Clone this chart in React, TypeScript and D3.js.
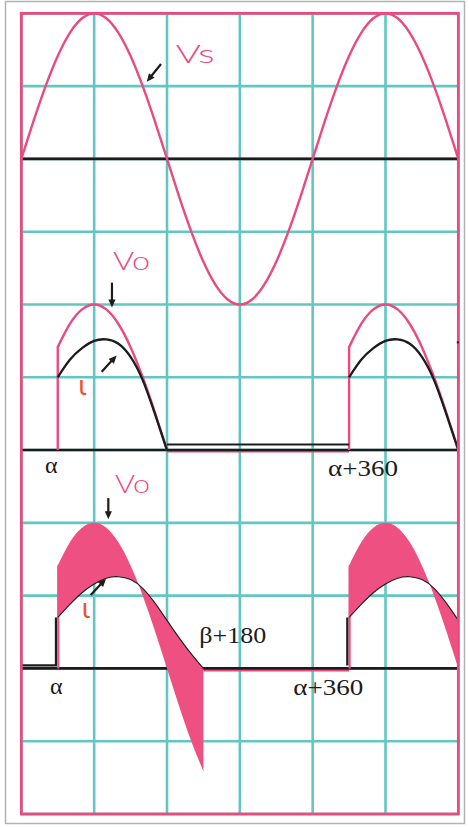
import React from "react";
import * as d3 from "d3";

const W = 469;
const H = 827;

// Sample angles (degrees) across one and a half supply cycles
const ANGLES = [
  0, 15, 30, 45, 60, 75, 90, 105, 120, 135, 150, 165, 180, 195, 210, 225, 240,
  255, 270, 285, 300, 315, 330, 345, 360, 375, 390, 405, 420, 435, 450, 465,
  480, 495, 510, 525, 540,
];
// Supply voltage Vs (per unit of peak)
const VS = [
  0, 0.259, 0.5, 0.707, 0.866, 0.966, 1, 0.966, 0.866, 0.707, 0.5, 0.259, 0,
  -0.259, -0.5, -0.707, -0.866, -0.966, -1, -0.966, -0.866, -0.707, -0.5,
  -0.259, 0, 0.259, 0.5, 0.707, 0.866, 0.966, 1, 0.966, 0.866, 0.707, 0.5,
  0.259, 0,
];

// Firing angle and extinction angle (degrees)
const ALPHA = 45;
const BETA = 225;
// The output pulse repeats every supply cycle
const PULSE_SHIFTS = [0, 360];

// Load current, second panel: conduction from α to 180
const I_MID_ANGLES = [45, 60, 75, 90, 105, 120, 135, 150, 165, 180];
const I_MID = [0.5, 0.62, 0.7, 0.75, 0.76, 0.73, 0.64, 0.48, 0.25, 0];

// Load current, third panel: conduction from α to β
const I_LOW_ANGLES = [45, 60, 75, 90, 105, 120, 135, 150, 165, 180, 195, 210, 225];
const I_LOW = [0.35, 0.44, 0.52, 0.58, 0.62, 0.63, 0.61, 0.55, 0.45, 0.33, 0.21, 0.1, 0];

// Grid: vertical lines every 90°, 11 equal rows
const GRID_ANGLES = [0, 90, 180, 270, 360, 450, 540];
const GRID_ROW_COUNT = 11;
// Rows that carry the zero axis of each panel
const AXIS_ROWS = [2, 6, 9];

const PINK = "#ea4b7f";
const FILL_PINK = "#ef5082";
const TEAL = "#62c7c2";
const INK = "#1c1c1c";
const IOTA = "#f0532c";

const x = d3.scaleLinear().domain([0, 540]).range([21.33, 458.33]);
const row = d3.scaleLinear().domain([0, GRID_ROW_COUNT]).range([13.33, 814]);
const panelScale = (axisRow: number) =>
  d3.scaleLinear().domain([0, 1]).range([row(axisRow), row(axisRow - 2)]);
const y1 = panelScale(AXIS_ROWS[0]);
const y2 = panelScale(AXIS_ROWS[1]);
const y3 = panelScale(AXIS_ROWS[2]);

const vsAt = new Map(ANGLES.map((a, i) => [a, VS[i]]));

type Pt = { a: number; v: number };

function curvePath(pts: Pt[], y: d3.ScaleLinear<number, number>) {
  return (
    d3
      .line<Pt>()
      .x((d) => x(d.a))
      .y((d) => y(d.v))
      .curve(d3.curveNatural)(pts) || ""
  );
}

function Arrow({ x1, y1: ya, x2, y2: yb }: { x1: number; y1: number; x2: number; y2: number }) {
  const dx = x2 - x1;
  const dy = yb - ya;
  const len = Math.hypot(dx, dy);
  const ux = dx / len;
  const uy = dy / len;
  const hl = 8;
  const hw = 3.6;
  const bx = x2 - ux * hl;
  const by = yb - uy * hl;
  const tri = `M${x2},${yb}L${bx - uy * hw},${by + ux * hw}L${bx + uy * hw},${by - ux * hw}Z`;
  return (
    <g>
      <line x1={x1} y1={ya} x2={bx + ux * 1} y2={by + uy * 1} stroke={INK} strokeWidth={2.2} />
      <path d={tri} fill={INK} />
    </g>
  );
}

const sansStyle = {
  fontFamily: "Lato, 'DejaVu Sans', sans-serif",
  fontWeight: 300,
  fontSize: "26px",
};

const serifStyle = {
  fontFamily: "Liberation Serif, DejaVu Serif, serif",
  fontWeight: 400,
  fontSize: "24px",
};

const iotaStyle = {
  fontFamily: "'DejaVu Sans', sans-serif",
  fontSize: "27px",
};

export default function App() {
  const vsPts: Pt[] = ANGLES.map((a, i) => ({ a, v: VS[i] }));

  // Second panel: output voltage pulses and current
  const midPulses = PULSE_SHIFTS.map((s) => {
    const start = ALPHA + s;
    const vo = ANGLES.filter((a) => a >= start && a <= 180 + s).map((a) => ({ a, v: vsAt.get(a)! }));
    const vPath =
      `M${x(start)},${y2(0)}L${x(start)},${y2(vo[0].v)}` + curvePath(vo, y2).replace(/^M[^LC]*/, "");
    const cur = I_MID_ANGLES.map((a, i) => ({ a: a + s, v: I_MID[i] })).filter((d) => d.a <= 540);
    return { s, vPath, iPath: curvePath(cur, y2) };
  });

  // Third panel: output voltage follows the supply from α to β
  const lowPulses = PULSE_SHIFTS.map((s) => {
    const start = ALPHA + s;
    const rows = I_LOW_ANGLES.map((a, i) => ({ a: a + s, i: I_LOW[i], v: vsAt.get(a + s) }))
      .filter((d) => d.a <= 540 && d.v !== undefined) as { a: number; i: number; v: number }[];
    const area =
      d3
        .area<{ a: number; i: number; v: number }>()
        .x((d) => x(d.a))
        .y0((d) => y3(d.i))
        .y1((d) => y3(d.v))
        .curve(d3.curveNatural)(rows) || "";
    const cur = rows.map((d) => ({ a: d.a, v: d.i }));
    return { s, start, area, iPath: curvePath(cur, y3), i0: rows[0].i, v0: rows[0].v };
  });

  const serifText = (key: string, tx: number, ty: number, label: string, len?: number) => (
    <text
      key={key}
      x={tx}
      y={ty}
      fill={INK}
      style={serifStyle}
      textLength={len}
      lengthAdjust={len ? "spacingAndGlyphs" : undefined}
    >
      {label}
    </text>
  );

  const sansText = (tx: number, ty: number, label: string, len: number) => (
    <text x={tx} y={ty} fill={PINK} style={sansStyle} textLength={len} lengthAdjust="spacingAndGlyphs">
      {label}
    </text>
  );

  return (
    <svg
      width={W}
      height={H}
      viewBox={`0 0 ${W} ${H}`}
      style={{ position: "absolute", left: 0, top: 0, background: "#fff" }}
    >
      <rect x={5.5} y={1.5} width={459} height={822} fill="#fff" stroke="#b3b3b3" strokeWidth={1.5} />

      {/* grid */}
      <g stroke={TEAL} strokeWidth={2.6}>
        {GRID_ANGLES.map((a) => (
          <line key={`v${a}`} x1={x(a)} x2={x(a)} y1={row(0)} y2={row(GRID_ROW_COUNT)} />
        ))}
        {d3.range(GRID_ROW_COUNT + 1).map((r) => (
          <line key={`h${r}`} x1={x(0)} x2={x(540)} y1={row(r)} y2={row(r)} />
        ))}
      </g>

      {/* zero-voltage stretches between output pulses */}
      <line x1={x(180)} x2={x(ALPHA + 360)} y1={y2(0) + 1.5} y2={y2(0) + 1.5} stroke={PINK} strokeWidth={2} />
      <line x1={x(BETA)} x2={x(ALPHA + 360)} y1={y3(0) + 2} y2={y3(0) + 2} stroke={PINK} strokeWidth={2} />

      {/* zero axes */}
      <g stroke={INK} strokeWidth={2.6}>
        {AXIS_ROWS.map((r) => (
          <line key={r} x1={x(0)} x2={x(540)} y1={row(r)} y2={row(r)} />
        ))}
      </g>

      {/* panel 1: supply voltage */}
      <path d={curvePath(vsPts, y1)} fill="none" stroke={PINK} strokeWidth={2.4} />

      {/* panel 2 */}
      {midPulses.map((p) => (
        <g key={p.s}>
          <path d={p.vPath} fill="none" stroke={PINK} strokeWidth={2.4} />
          <path d={p.iPath} fill="none" stroke={INK} strokeWidth={2.3} />
        </g>
      ))}
      <line x1={x(180)} x2={x(ALPHA + 360)} y1={y2(0) - 5.5} y2={y2(0) - 5.5} stroke={INK} strokeWidth={2} />

      {/* panel 3 */}
      <clipPath id="frameClip">
        <rect x={x(0)} y={row(0)} width={x(540) - x(0)} height={row(GRID_ROW_COUNT) - row(0)} />
      </clipPath>
      <g clipPath="url(#frameClip)">
        {lowPulses.map((p) => (
          <g key={p.s}>
            <path d={p.area} fill={FILL_PINK} />
            <line
              x1={x(p.start) + 0.5}
              x2={x(p.start) + 0.5}
              y1={y3(0)}
              y2={y3(p.v0)}
              stroke={FILL_PINK}
              strokeWidth={2.2}
            />
            <line
              x1={x(p.start) - 1.8}
              x2={x(p.start) - 1.8}
              y1={y3(0) - 3}
              y2={y3(p.i0)}
              stroke={INK}
              strokeWidth={2.2}
            />
            <path d={p.iPath} fill="none" stroke={INK} strokeWidth={1.1} />
          </g>
        ))}
      </g>
      <line x1={x(0)} x2={x(ALPHA) - 0.8} y1={y3(0) - 3} y2={y3(0) - 3} stroke={INK} strokeWidth={2.2} />

      {/* frame */}
      <rect
        x={x(0)}
        y={row(0)}
        width={x(540) - x(0)}
        height={row(GRID_ROW_COUNT) - row(0)}
        fill="none"
        stroke={PINK}
        strokeWidth={2.8}
      />
      <rect x={x(540) - 1.5} y={y3(2.24) - 1} width={2} height={2} fill={INK} />

      {/* annotations */}
      {sansText(x(190.7), y1(0.657), "Vs", 39)}
      <Arrow x1={x(172.6)} y1={y1(0.652)} x2={x(155)} y2={y1(0.53)} />

      {sansText(x(113.3), y2(1.237), "Vo", 37)}
      <Arrow x1={x(112)} y1={y2(1.15)} x2={x(112)} y2={y2(0.98)} />
      <Arrow x1={x(99.3)} y1={y2(0.538)} x2={x(117.8)} y2={y2(0.65)} />
      <text x={x(70)} y={y2(0.378)} fill={IOTA} style={iotaStyle}>
        ι
      </text>
      {serifText("a2", x(29.3), y2(-0.157), "α")}
      {serifText("a2b", x(379), y2(-0.175), "α+360", 70)}

      {sansText(x(115.8), y3(1.207), "Vo", 35)}
      <Arrow x1={x(107.5)} y1={y3(1.17)} x2={x(107.5)} y2={y3(1.025)} />
      <Arrow x1={x(85.7)} y1={y3(0.504)} x2={x(104.6)} y2={y3(0.616)} />
      <text x={x(74.5)} y={y3(0.346)} fill={IOTA} style={iotaStyle}>
        ι
      </text>
      {serifText("b3", x(219.9), y3(0.177), "β+180", 67)}
      {serifText("a3", x(35.4), y3(-0.176), "α")}
      {serifText("a3b", x(336), y3(-0.18), "α+360", 70)}
    </svg>
  );
}
